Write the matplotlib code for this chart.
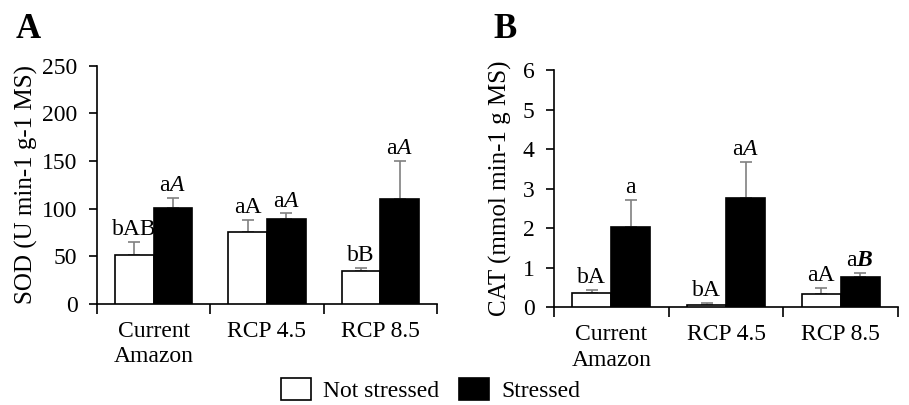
import matplotlib
matplotlib.use("Agg")
import matplotlib.pyplot as plt
from matplotlib.patches import Patch
import numpy as np

plt.rcParams['font.family'] = ['Liberation Serif', 'DejaVu Serif']
plt.rcParams['mathtext.fontset'] = 'custom'
plt.rcParams['mathtext.rm'] = 'Liberation Serif'
plt.rcParams['mathtext.it'] = 'Liberation Serif:italic'
plt.rcParams['mathtext.bf'] = 'Liberation Serif:bold'
plt.rcParams['mathtext.bfit'] = 'Liberation Serif:italic:bold'

categories = ["Current\nAmazon", "RCP 4.5", "RCP 8.5"]

sod_not = [51, 76, 35]
sod_not_err = [14, 12, 3]
sod_str = [101, 89, 110]
sod_str_err = [10, 6, 40]
sod_not_lbl = ["bAB", "aA", "bB"]
sod_str_lbl = [r"a$\mathit{A}$", r"a$\mathit{A}$", r"a$\mathit{A}$"]

cat_not = [0.36, 0.07, 0.33]
cat_not_err = [0.09, 0.04, 0.17]
cat_str = [2.03, 2.76, 0.77]
cat_str_err = [0.68, 0.92, 0.11]
cat_not_lbl = ["bA", "bA", "aA"]
cat_str_lbl = ["a", r"a$\mathit{A}$", r"a$\mathbfit{B}$"]

FS = 17

fig = plt.figure(figsize=(9.09, 4.05), dpi=100)
axA = fig.add_axes([0.1067, 0.2494, 0.374, 0.588])
axB = fig.add_axes([0.6095, 0.2412, 0.3784, 0.586])

def draw(ax, nv, ne, sv, se, nl, sl, ymax, step, ylabel, off, lpad):
    x = np.arange(len(categories))
    w = 0.34
    ax.bar(x - w/2, nv, w, color='white', edgecolor='black', linewidth=1.2, zorder=3)
    ax.bar(x + w/2, sv, w, color='black', edgecolor='black', linewidth=1.2, zorder=3)
    ax.errorbar(x - w/2, nv, yerr=[np.zeros(3), ne], fmt='none', ecolor='#808080',
                elinewidth=1.2, capsize=4, capthick=1.2, zorder=2)
    ax.errorbar(x + w/2, sv, yerr=[np.zeros(3), se], fmt='none', ecolor='#808080',
                elinewidth=1.2, capsize=4, capthick=1.2, zorder=2)
    for i in range(3):
        ax.text(x[i] - w/2, nv[i] + ne[i] + off, nl[i], ha='center', va='bottom', fontsize=FS)
        ax.text(x[i] + w/2, sv[i] + se[i] + off, sl[i], ha='center', va='bottom', fontsize=FS)
    ax.set_xlim(-0.5, 2.5)
    ax.set_ylim(0, ymax)
    ax.set_yticks(np.arange(0, ymax + step/2, step))
    ax.set_xticks(x)
    ax.set_xticklabels(categories, fontsize=FS, linespacing=1.3)
    ax.tick_params(axis='x', which='major', length=0, pad=12)
    ax.set_xticks([-0.5, 0.5, 1.5, 2.5], minor=True)
    ax.tick_params(axis='x', which='minor', length=7, width=1.2, direction='out')
    ax.tick_params(axis='y', labelsize=FS, length=6, width=1.2, direction='out', pad=8)
    for s in ['top', 'right']:
        ax.spines[s].set_visible(False)
    for s in ['left', 'bottom']:
        ax.spines[s].set_linewidth(1.2)
    ax.set_ylabel(ylabel, fontsize=18, labelpad=lpad)

draw(axA, sod_not, sod_not_err, sod_str, sod_str_err, sod_not_lbl, sod_str_lbl,
     250, 50, "SOD (U min-1 g-1 MS)", 2, 3)
draw(axB, cat_not, cat_not_err, cat_str, cat_str_err, cat_not_lbl, cat_str_lbl,
     6, 1, "CAT (mmol min-1 g MS)", 0.05, 8)

fig.text(0.017, 0.928, "A", fontsize=25, fontweight='bold', va='center')
fig.text(0.543, 0.928, "B", fontsize=25, fontweight='bold', va='center')

handles = [Patch(facecolor='white', edgecolor='black', linewidth=1.2, label='Not stressed'),
           Patch(facecolor='black', edgecolor='black', linewidth=1.2, label='Stressed')]
fig.legend(handles=handles, loc='lower center', bbox_to_anchor=(0.474, -0.045), ncol=2,
           frameon=False, fontsize=FS, handlelength=1.27, handleheight=1.1,
           columnspacing=0.85, handletextpad=0.5)

fig.savefig("out.png", dpi=100)
